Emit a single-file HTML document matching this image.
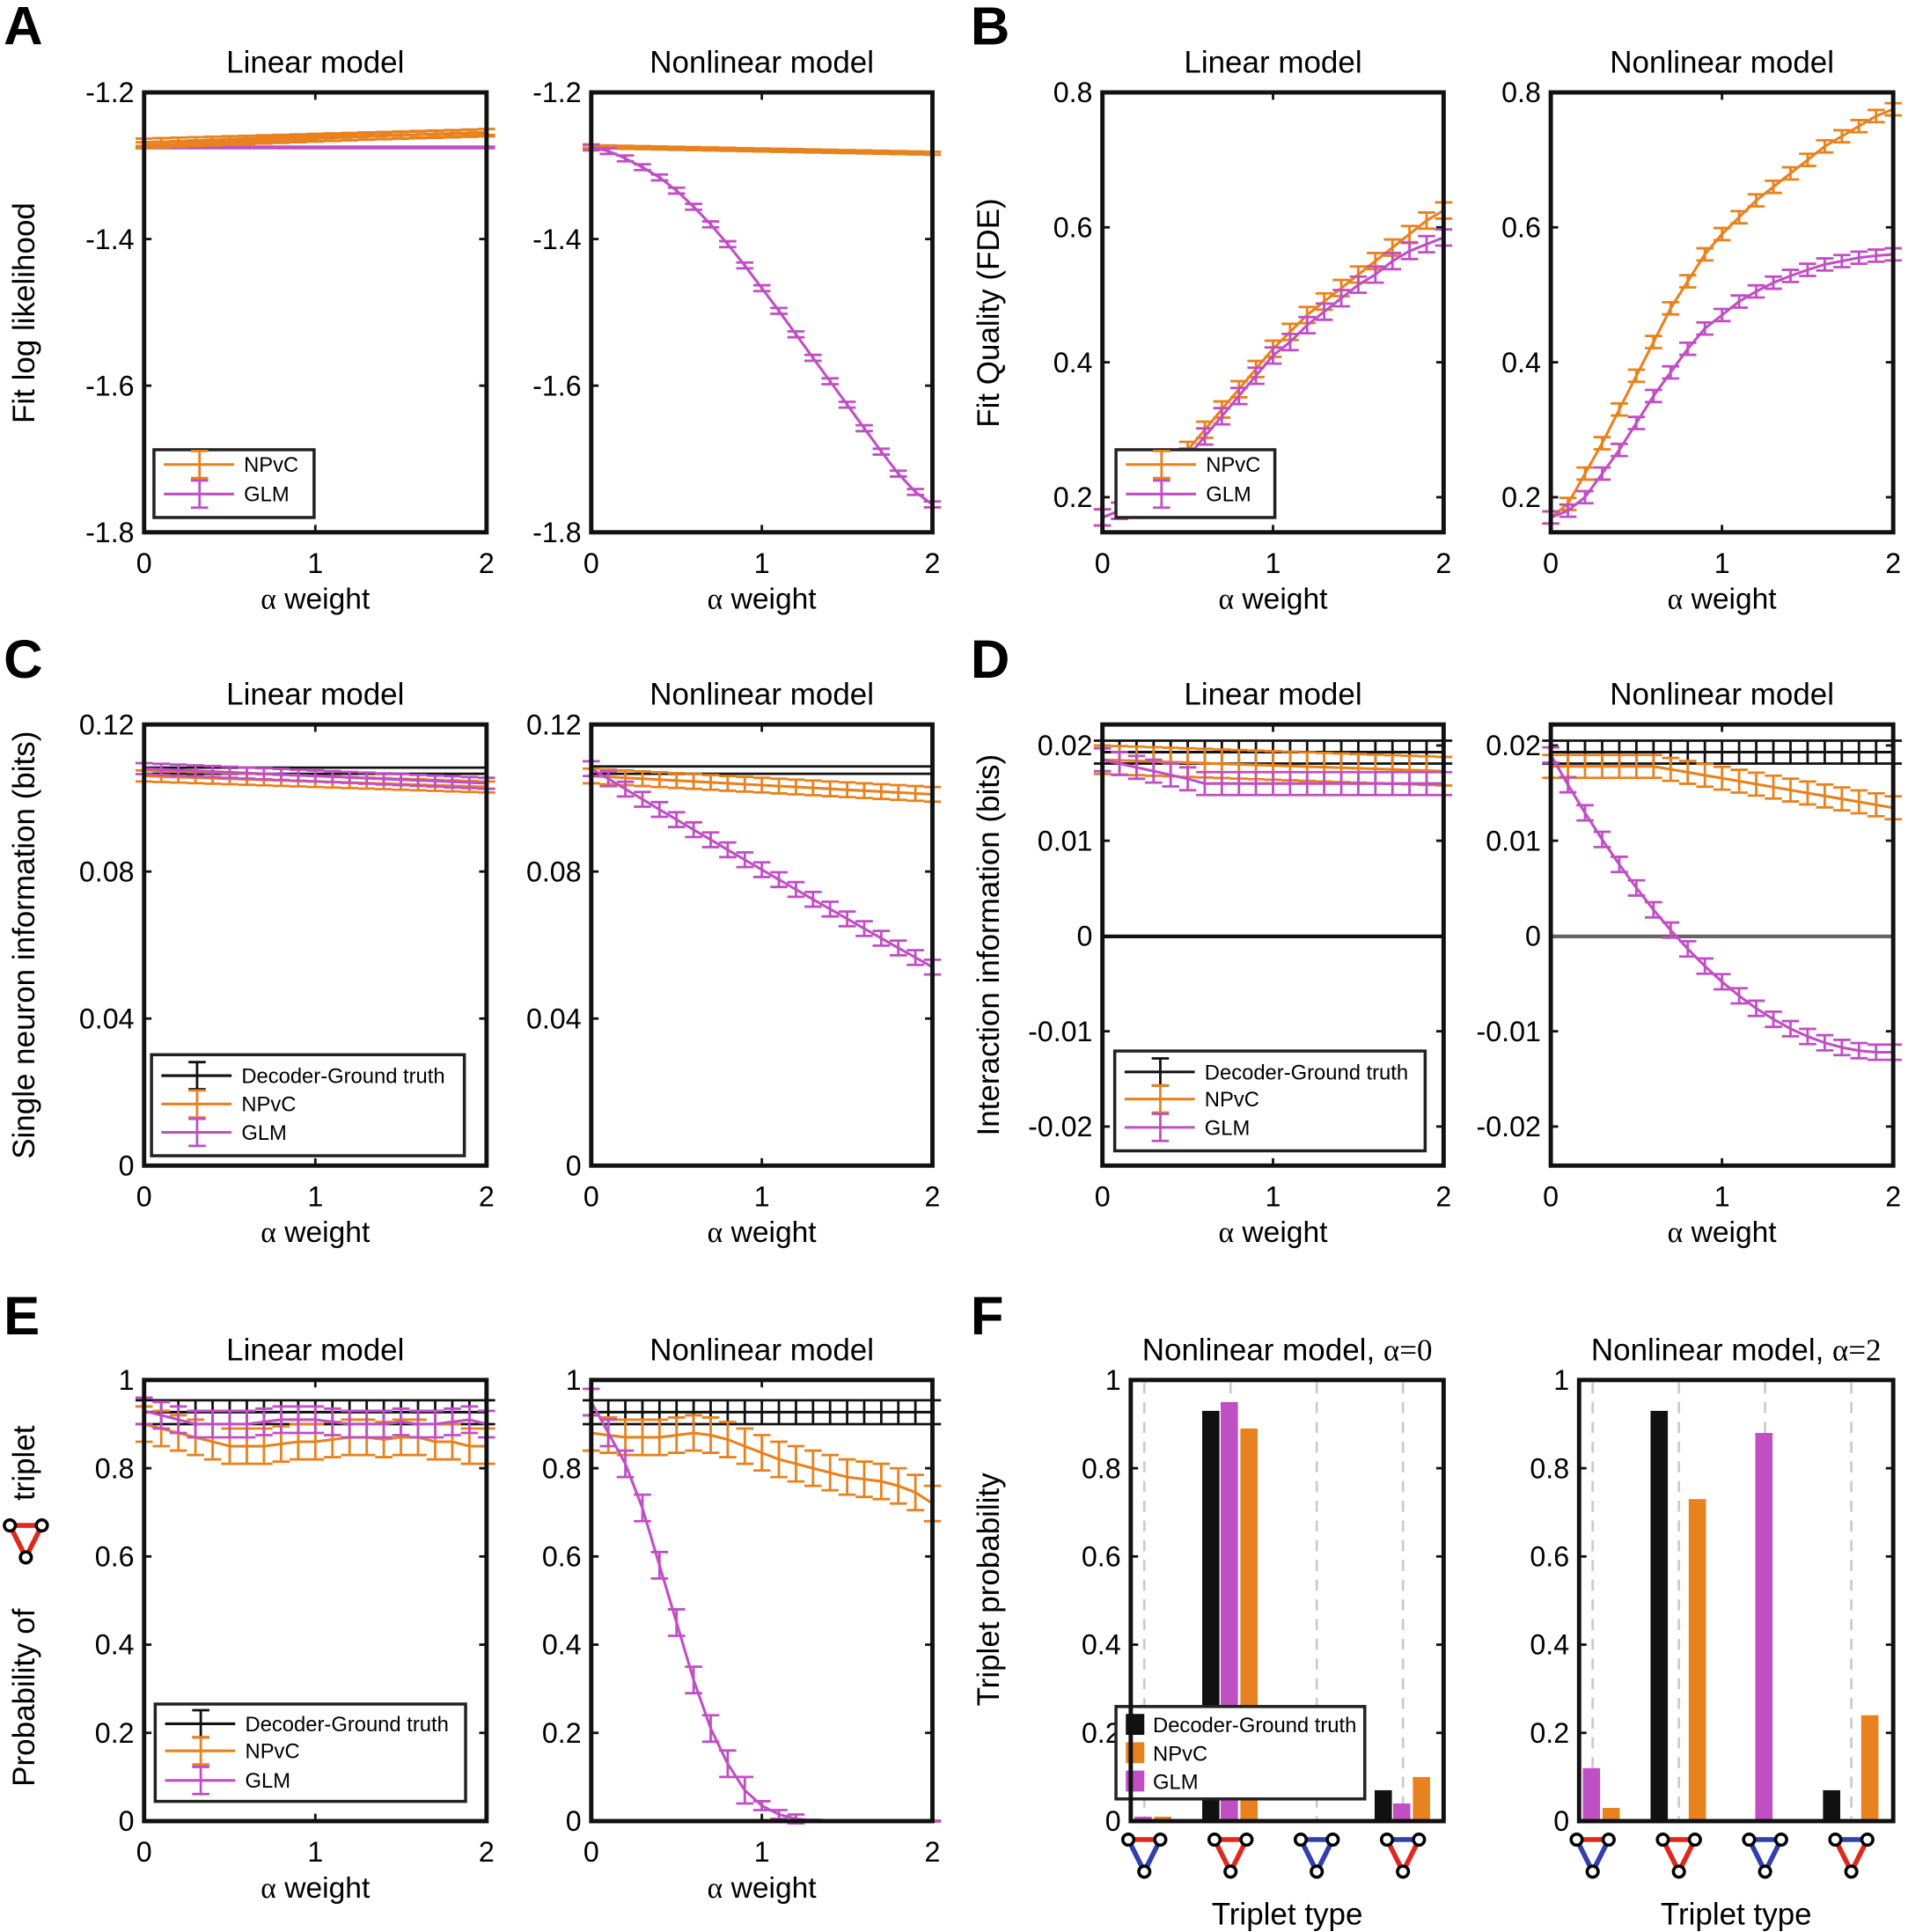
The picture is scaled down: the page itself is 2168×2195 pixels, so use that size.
<!DOCTYPE html>
<html><head><meta charset="utf-8"><style>
html,body{margin:0;padding:0;background:#fff}
svg{display:block}
text{font-family:"Liberation Sans",sans-serif}
</style></head><body>
<svg id="s" width="2168" height="2195" viewBox="0 0 1549 1568" preserveAspectRatio="none" xmlns="http://www.w3.org/2000/svg"></svg>
<script>
const S=document.getElementById('s');let h='';
const OR='#E8821E',MG='#C04FC4',BK='#111';
function T(x,y,t,sz,anc,extra){h+=`<text x="${x}" y="${y}" font-size="${sz}" text-anchor="${anc||'middle'}" ${extra||''}>${t}</text>`;}
function L(x1,y1,x2,y2,c,w,extra){h+=`<line x1="${x1}" y1="${y1}" x2="${x2}" y2="${y2}" stroke="${c}" stroke-width="${w}" ${extra||''}/>`;}
function axes(x0,x1,y0,y1,ymin,ymax,yt,ylab,title,xt){
  const ax={x0,x1,y0,y1,ymin,ymax,
    X:a=>x0+(x1-x0)*a/2, Y:v=>y1-(y1-y0)*(v-ymin)/(ymax-ymin)};
  T((x0+x1)/2,y0-16,title,25);
  yt.forEach(([v,s])=>{const y=ax.Y(v);T(x0-8,y+8,s,23,'end');L(x0,y,x0+6,y,BK,2);L(x1,y,x1-6,y,BK,2);});
  if(xt!==false){[0,1,2].forEach(a=>{const x=ax.X(a);T(x,y1+33,a,23);L(x,y1,x,y1-6,BK,2);L(x,y0,x,y0+6,BK,2);});
  T((x0+x1)/2,y1+62,'<tspan font-family="Liberation Serif">α</tspan> weight',24);}
  return ax;
}
function box(ax){h+=`<rect x="${ax.x0}" y="${ax.y0}" width="${ax.x1-ax.x0}" height="${ax.y1-ax.y0}" fill="none" stroke="${BK}" stroke-width="3.5"/>`;}
function series(ax,f,e,c,step){step=step||0.1;let p=[];const pts=[];
  for(let i=0;i<=Math.round(2/step);i++){const a=i*step;const v=f(a);pts.push([a,v]);p.push(ax.X(a).toFixed(1)+','+ax.Y(v).toFixed(1));}
  h+=`<polyline points="${p.join(' ')}" fill="none" stroke="${c}" stroke-width="2.2"/>`;
  pts.forEach(([a,v])=>{const x=ax.X(a),ee=typeof e=='function'?e(a):e;const yt=ax.Y(v+ee),yb=ax.Y(v-ee);
    L(x,yt,x,yb,c,2);L(x-7,yt,x+7,yt,c,2);L(x-7,yb,x+7,yb,c,2);});
}
function interp(arr){return a=>{const i=Math.min(Math.floor(a/0.1+1e-9),arr.length-2);const t=a/0.1-i;return arr[i]*(1-t)+arr[i+1]*t;};}
function legend(x0,y0,x1,y1,items,patch){
  h+=`<rect x="${x0}" y="${y0}" width="${x1-x0}" height="${y1-y0}" fill="#fff" stroke="#222" stroke-width="2.5"/>`;
  items.forEach(([c,t,y])=>{
    if(patch){h+=`<rect x="${x0+8}" y="${y-8}" width="15" height="17" fill="${c}"/>`;T(x0+30,y+7,t,17,'start');}
    else{L(x0+8,y,x0+65,y,c,2.2);const xm=x0+37;L(xm,y-11,xm,y+11,c,2);L(xm-7,y-11,xm+7,y-11,c,2);L(xm-7,y+11,xm+7,y+11,c,2);T(x0+73,y+6,t,17,'start');}
  });
}
function letter(x,y,t){T(x,y,t,44,'start','font-weight="bold"');}
letter(3,36,'A');letter(788,36,'B');letter(3,550,'C');letter(788,550,'D');letter(3,1083,'E');letter(788,1083,'F');
// A
let yA=[[-1.2,'-1.2'],[-1.4,'-1.4'],[-1.6,'-1.6'],[-1.8,'-1.8']];
let a=axes(117,395,75,432,-1.8,-1.2,yA,'','Linear model');
series(a,x=>-1.275,0.001,MG);
series(a,x=>-1.268+0.0065*x,0.005,OR);series(a,x=>-1.272+0.009*x,0.004,OR);
legend(125,365,255,420,[[OR,'NPvC',377],[MG,'GLM',401]]);box(a);
h+=`<text transform="translate(28,254) rotate(-90)" font-size="25" text-anchor="middle">Fit log likelihood</text>`;
a=axes(480,757,75,432,-1.8,-1.2,yA,'','Nonlinear model');
series(a,x=>-1.274-0.0045*x,0.002,OR);
series(a,interp([-1.275,-1.28,-1.29,-1.302,-1.316,-1.334,-1.356,-1.38,-1.407,-1.436,-1.467,-1.498,-1.53,-1.562,-1.594,-1.626,-1.658,-1.69,-1.72,-1.745,-1.762]),0.004,MG);box(a);
// B
let yB=[[0.2,'0.2'],[0.4,'0.4'],[0.6,'0.6'],[0.8,'0.8']];
a=axes(895,1172,75,432,0.148,0.8,yB,'','Linear model');
series(a,interp([0.17,0.18,0.2,0.22,0.25,0.27,0.3,0.33,0.36,0.39,0.42,0.445,0.47,0.49,0.51,0.53,0.55,0.57,0.59,0.61,0.625]),0.012,OR);
series(a,interp([0.17,0.18,0.19,0.21,0.23,0.26,0.29,0.32,0.35,0.38,0.41,0.43,0.455,0.475,0.495,0.515,0.53,0.55,0.565,0.575,0.585]),0.012,MG);
legend(906,365,1035,420,[[OR,'NPvC',377],[MG,'GLM',401]]);box(a);
h+=`<text transform="translate(811,254) rotate(-90)" font-size="25" text-anchor="middle">Fit Quality (FDE)</text>`;
a=axes(1259,1537,75,432,0.148,0.8,yB,'','Nonlinear model');
series(a,interp([0.17,0.19,0.235,0.28,0.33,0.38,0.43,0.48,0.52,0.56,0.59,0.615,0.64,0.66,0.68,0.7,0.72,0.735,0.75,0.765,0.775]),0.009,OR);
series(a,interp([0.17,0.18,0.2,0.235,0.27,0.31,0.35,0.385,0.42,0.45,0.47,0.49,0.505,0.518,0.528,0.537,0.545,0.55,0.555,0.558,0.56]),0.009,MG);box(a);
// C
let yC=[[0,'0'],[0.04,'0.04'],[0.08,'0.08'],[0.12,'0.12']];
a=axes(117,395,588,946,0,0.12,yC,'','Linear model');
L(117,623,395,623,BK,2);L(117,628,395,628,BK,2);
series(a,x=>0.106-0.0015*x,0.0015,OR);series(a,x=>0.108-0.002*x,0.0015,MG);
legend(123,856,377,938,[[BK,'Decoder-Ground truth',873],[OR,'NPvC',896],[MG,'GLM',919]]);box(a);
h+=`<text transform="translate(28,767) rotate(-90)" font-size="25" text-anchor="middle">Single neuron information (bits)</text>`;
a=axes(480,757,588,946,0,0.12,yC,'','Nonlinear model');
L(480,622,757,622,BK,2);L(480,628,757,628,BK,2);
series(a,x=>0.106-0.0025*x,0.002,OR);series(a,x=>0.108-0.028*x+0.0005*x*x,0.002,MG);box(a);
// D
let yD=[[-0.02,'-0.02'],[-0.01,'-0.01'],[0,'0'],[0.01,'0.01'],[0.02,'0.02']];
a=axes(895,1172,588,946,-0.0241,0.0222,yD,'','Linear model');
L(895,760,1172,760,BK,3);
series(a,x=>0.0193,0.0012,BK);
series(a,x=>0.0185-0.0006*x,0.0015,OR);series(a,x=>x<0.6?0.0185-0.004*x:0.016,0.0012,MG);
legend(905,853,1157,934,[[BK,'Decoder-Ground truth',870],[OR,'NPvC',892],[MG,'GLM',915]]);box(a);
h+=`<text transform="translate(811,767) rotate(-90)" font-size="25" text-anchor="middle">Interaction information (bits)</text>`;
a=axes(1259,1537,588,946,-0.0241,0.0222,yD,'','Nonlinear model');
L(1259,760,1537,760,'#666',3);
series(a,x=>0.0193,0.0012,BK);
series(a,x=>x<0.6?0.0178:0.0178-0.0031*(x-0.6),0.0012,OR);series(a,x=>0.019-0.032*x+0.0082*x*x,0.0008,MG);box(a);
// E
let yE=[[0,'0'],[0.2,'0.2'],[0.4,'0.4'],[0.6,'0.6'],[0.8,'0.8'],[1,'1']];
a=axes(117,395,1120,1478,0,1,yE,'','Linear model');
series(a,x=>0.927,0.027,BK);
series(a,interp([0.9,0.89,0.88,0.87,0.86,0.85,0.85,0.85,0.855,0.86,0.86,0.865,0.87,0.87,0.865,0.87,0.87,0.86,0.86,0.85,0.85]),0.04,OR);
series(a,interp([0.93,0.92,0.91,0.9,0.9,0.9,0.9,0.905,0.91,0.91,0.91,0.905,0.9,0.9,0.9,0.905,0.9,0.9,0.905,0.91,0.9]),0.03,MG);
legend(126,1383,378,1462,[[BK,'Decoder-Ground truth',1399],[OR,'NPvC',1421],[MG,'GLM',1445]]);box(a);
h+=`<text transform="translate(28,1450) rotate(-90)" font-size="25" text-anchor="start">Probability of</text>`;
h+=`<text transform="translate(28,1218) rotate(-90)" font-size="25" text-anchor="start">triplet</text>`;
function tri(cx,cy,top,l,r,sc){sc=sc||1;const A=[cx-13*sc,cy-12*sc],B=[cx+13*sc,cy-12*sc],C=[cx,cy+14*sc];
 L(A[0],A[1],B[0],B[1],top,4);L(A[0],A[1],C[0],C[1],l,4);L(B[0],B[1],C[0],C[1],r,4);
 [A,B,C].forEach(p=>h+=`<circle cx="${p[0]}" cy="${p[1]}" r="4.5" fill="#fff" stroke="#000" stroke-width="2.5"/>`);}
tri(21,1250,'#E0281E','#E0281E','#E0281E');
a=axes(480,757,1120,1478,0,1,yE,'','Nonlinear model');
series(a,x=>0.927,0.027,BK);
series(a,interp([0.88,0.875,0.87,0.87,0.87,0.875,0.88,0.875,0.865,0.85,0.835,0.82,0.81,0.8,0.79,0.78,0.775,0.77,0.76,0.745,0.72]),0.04,OR);
series(a,interp([0.95,0.88,0.81,0.71,0.58,0.45,0.32,0.21,0.13,0.07,0.035,0.015,0.005,0.002,0,0,0,0,0,0,0]),x=>x>1.25?0.001:(x>0.95?0.01:0.03),MG);box(a);
// F
const RD='#E0281E',BL='#3040B0';
function fplot(x0,x1,title,vals){
  const ax=axes(x0,x1,1120,1478,0,1,yE,'',title,false);
  const cats=[x0+11,x0+81,x0+151,x0+221];
  cats.forEach(c=>L(c,1122,c,1476,'#ccc',2,'stroke-dasharray="9,7"'));
  cats.forEach((c,i)=>{[[BK,-23,vals[i][0]],[MG,-8,vals[i][1]],[OR,8,vals[i][2]]].forEach(([col,dx,v])=>{if(v>0)h+=`<rect x="${c+dx}" y="${ax.Y(v)}" width="14" height="${1478-ax.Y(v)}" fill="${col}"/>`;});});
  const cs=[[RD,BL,BL],[RD,RD,RD],[BL,BL,BL],[BL,RD,RD]];
  cats.forEach((c,i)=>tri(c,1505,...cs[i]));
  T((x0+x1)/2,1562,'Triplet type',25);
  return ax;
}
a=fplot(918,1172,'Nonlinear model, <tspan font-family="Liberation Serif">α=0</tspan>',[[0,0.01,0.01],[0.93,0.95,0.89],[0,0,0],[0.07,0.04,0.1]]);
legend(906,1385,1108,1460,[[BK,'Decoder-Ground truth',1399],[OR,'NPvC',1422],[MG,'GLM',1445]],true);box(a);
h+=`<text transform="translate(811,1290) rotate(-90)" font-size="25" text-anchor="middle">Triplet probability</text>`;
a=fplot(1282,1537,'Nonlinear model, <tspan font-family="Liberation Serif">α=2</tspan>',[[0,0.12,0.03],[0.93,0,0.73],[0,0.88,0],[0.07,0,0.24]]);box(a);
S.innerHTML=h;
</script>
</body></html>
